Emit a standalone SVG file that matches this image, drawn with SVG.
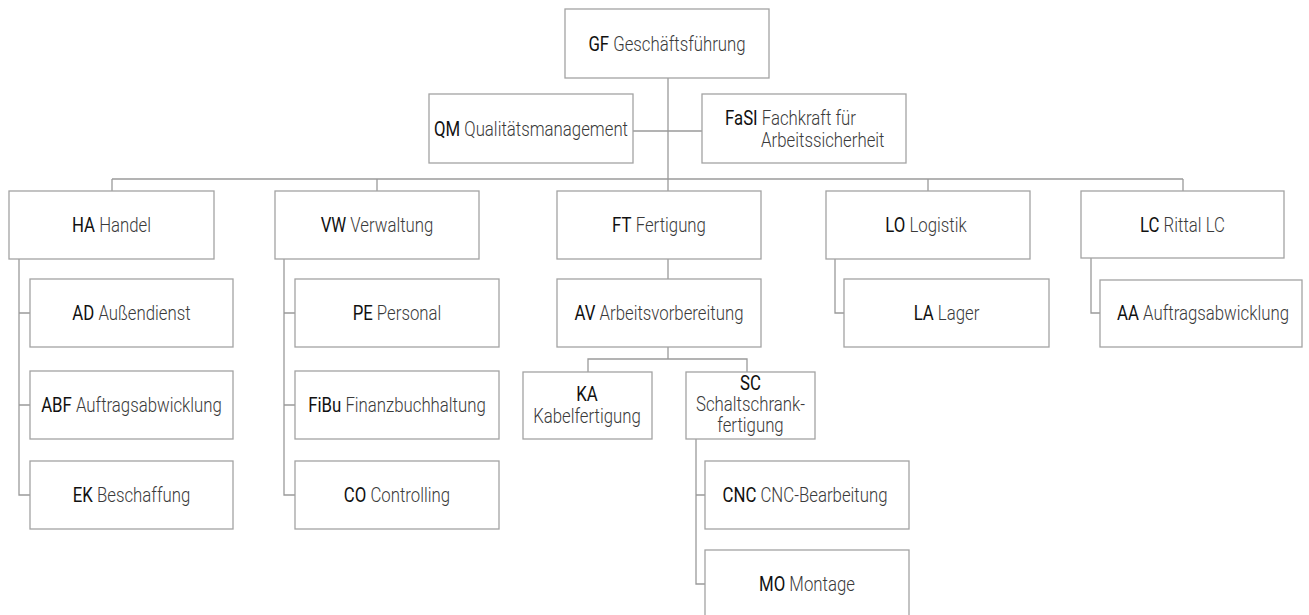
<svg xmlns="http://www.w3.org/2000/svg" width="1309" height="615" viewBox="0 0 1309 615">
<style>
.bg{fill:#ffffff}
.box{fill:#ffffff;stroke:#a3a3a3;stroke-width:1.3}
.ln{fill:none;stroke:#9a9a9a;stroke-width:1.3}
text{font-family:Roboto,"Liberation Sans",sans-serif;font-size:20px;text-anchor:middle}
.ab{font-weight:400;fill:#111111}
.tx{font-weight:300;fill:#3a3a3a}
.l{text-anchor:start}
</style>
<rect class="bg" x="0" y="0" width="1309" height="615"/>
<g id="connectors">
<path class="ln" d="M668,78V179M633,131H702M112,179H1183M112,179V191M377,179V191M668,179V191M928,179V191M1183,179V191M668,259V279"/>
<path class="ln" d="M19,259V495H30M19,313H30M19,405H30"/>
<path class="ln" d="M284,259V495H295M284,313H295M284,405H295"/>
<path class="ln" d="M835,259V313H844"/>
<path class="ln" d="M1091,258V313H1100"/>
<path class="ln" d="M668,347V359M588,372V359H747V372"/>
<path class="ln" d="M696,439V584H705M696,495H705"/>
</g>
<g id="GF"><rect class="box" x="565" y="9" width="204" height="69"/><g transform="translate(667,50.5) scale(0.84,1)"><text><tspan class="ab">GF</tspan><tspan class="tx"> Geschäftsführung</tspan></text></g></g>
<g id="QM"><rect class="box" x="429" y="94" width="204" height="69"/><g transform="translate(531,135.5) scale(0.84,1)"><text><tspan class="ab">QM</tspan><tspan class="tx"> Qualitätsmanagement</tspan></text></g></g>
<g id="FaSI"><rect class="box" x="702" y="94" width="204" height="69"/><g transform="translate(725,125) scale(0.84,1)"><text class="l"><tspan class="ab">FaSI</tspan><tspan class="tx"> Fachkraft für</tspan><tspan class="tx" x="43" y="22.5">Arbeitssicherheit</tspan></text></g></g>
<g id="HA"><rect class="box" x="9" y="191" width="205" height="68"/><g transform="translate(111.5,231.5) scale(0.84,1)"><text><tspan class="ab">HA</tspan><tspan class="tx"> Handel</tspan></text></g></g>
<g id="VW"><rect class="box" x="275" y="191" width="204" height="68"/><g transform="translate(377,231.5) scale(0.84,1)"><text><tspan class="ab">VW</tspan><tspan class="tx"> Verwaltung</tspan></text></g></g>
<g id="FT"><rect class="box" x="557" y="191" width="204" height="68"/><g transform="translate(659,231.5) scale(0.84,1)"><text><tspan class="ab">FT</tspan><tspan class="tx"> Fertigung</tspan></text></g></g>
<g id="LO"><rect class="box" x="826" y="191" width="204" height="68"/><g transform="translate(926,231.5) scale(0.84,1)"><text><tspan class="ab">LO</tspan><tspan class="tx"> Logistik</tspan></text></g></g>
<g id="LC"><rect class="box" x="1081" y="191" width="203" height="67"/><g transform="translate(1182.5,231.5) scale(0.84,1)"><text><tspan class="ab">LC</tspan><tspan class="tx"> Rittal LC</tspan></text></g></g>
<g id="AD"><rect class="box" x="30" y="279" width="203" height="68"/><g transform="translate(131.5,319.5) scale(0.84,1)"><text><tspan class="ab">AD</tspan><tspan class="tx"> Außendienst</tspan></text></g></g>
<g id="ABF"><rect class="box" x="30" y="371" width="203" height="68"/><g transform="translate(131.5,411.5) scale(0.84,1)"><text><tspan class="ab">ABF</tspan><tspan class="tx"> Auftragsabwicklung</tspan></text></g></g>
<g id="EK"><rect class="box" x="30" y="461" width="203" height="68"/><g transform="translate(131.5,501.5) scale(0.84,1)"><text><tspan class="ab">EK</tspan><tspan class="tx"> Beschaffung</tspan></text></g></g>
<g id="PE"><rect class="box" x="295" y="279" width="204" height="68"/><g transform="translate(397,319.5) scale(0.84,1)"><text><tspan class="ab">PE</tspan><tspan class="tx"> Personal</tspan></text></g></g>
<g id="FiBu"><rect class="box" x="295" y="371" width="204" height="68"/><g transform="translate(397,411.5) scale(0.84,1)"><text><tspan class="ab">FiBu</tspan><tspan class="tx"> Finanzbuchhaltung</tspan></text></g></g>
<g id="CO"><rect class="box" x="295" y="461" width="204" height="68"/><g transform="translate(397,501.5) scale(0.84,1)"><text><tspan class="ab">CO</tspan><tspan class="tx"> Controlling</tspan></text></g></g>
<g id="AV"><rect class="box" x="557" y="279" width="204" height="68"/><g transform="translate(659,319.5) scale(0.84,1)"><text><tspan class="ab">AV</tspan><tspan class="tx"> Arbeitsvorbereitung</tspan></text></g></g>
<g id="KA"><rect class="box" x="523" y="372" width="129" height="67"/><g transform="translate(587,400.5) scale(0.84,1)"><text><tspan class="ab" x="0" y="0">KA</tspan><tspan class="tx" x="0" y="22.5">Kabelfertigung</tspan></text></g></g>
<g id="SC"><rect class="box" x="686" y="372" width="129" height="67"/><g transform="translate(750.5,389.5) scale(0.84,1)"><text><tspan class="ab" x="0" y="0">SC</tspan><tspan class="tx" x="0" y="21.5">Schaltschrank-</tspan><tspan class="tx" x="0" y="43">fertigung</tspan></text></g></g>
<g id="LA"><rect class="box" x="844" y="279" width="205" height="68"/><g transform="translate(946.5,319.5) scale(0.84,1)"><text><tspan class="ab">LA</tspan><tspan class="tx"> Lager</tspan></text></g></g>
<g id="AA"><rect class="box" x="1100" y="280" width="202" height="67"/><g transform="translate(1203,319.5) scale(0.84,1)"><text><tspan class="ab">AA</tspan><tspan class="tx"> Auftragsabwicklung</tspan></text></g></g>
<g id="CNC"><rect class="box" x="705" y="461" width="204" height="68"/><g transform="translate(805,501.5) scale(0.84,1)"><text><tspan class="ab">CNC</tspan><tspan class="tx"> CNC-Bearbeitung</tspan></text></g></g>
<g id="MO"><rect class="box" x="705" y="550" width="204" height="68"/><g transform="translate(807,590.5) scale(0.84,1)"><text><tspan class="ab">MO</tspan><tspan class="tx"> Montage</tspan></text></g></g>
</svg>
